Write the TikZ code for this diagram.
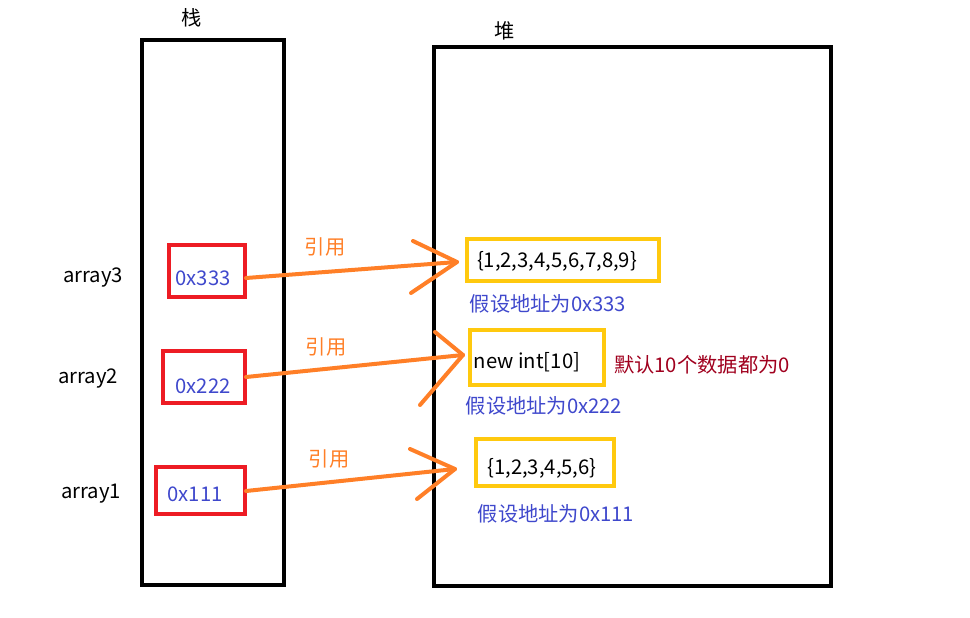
\documentclass[tikz,border=0pt]{standalone}
\usepackage{fontspec}
\setmainfont{Noto Sans CJK SC}
\definecolor{porange}{HTML}{FF7F27}
\definecolor{pred}{HTML}{ED1C24}
\definecolor{pyellow}{HTML}{FFC90E}
\definecolor{pblue}{HTML}{3F48CC}
\definecolor{pdred}{HTML}{A0001E}
\begin{document}
\begin{tikzpicture}[x=0.75pt,y=-0.75pt,
  frame/.style={draw=black,line width=3.4pt},
  redbox/.style={draw=pred,line width=3pt,inner sep=0pt},
  ylwbox/.style={draw=pyellow,line width=3pt,inner sep=0pt},
  lbl/.style={inner sep=0pt,yshift=-1.5pt,font=\fontsize{15.2pt}{17pt}\selectfont},
  addr/.style={lbl,text=pblue},
  reflbl/.style={lbl,text=porange},
  refline/.style={draw=porange,line width=3pt,line cap=round,line join=round}]
\useasboundingbox (0,0) rectangle (970,617);
% frames
\draw[frame] (142,40) rectangle (284,585);
\draw[frame] (434,47) rectangle (831,586);
\node[lbl] (stk) at (192,16) {栈};
\node[lbl] (hp) at (505,29) {堆};
% variable names
\node[lbl] (n3) at (93,276) {array3};
\node[lbl] (n2) at (88,377) {array2};
\node[lbl] (n1) at (91,492) {array1};
% red boxes
\node[redbox,minimum width=76pt*0.75,minimum height=52pt*0.75] (r3) at (207,271) {};
\node[redbox,minimum width=82pt*0.75,minimum height=52pt*0.75] (r2) at (204,377) {};
\node[redbox,minimum width=89pt*0.75,minimum height=47pt*0.75] (r1) at (200.5,490.5) {};
\node[addr] (a3) at (203,276) {0x333};
\node[addr] (a2) at (203,384) {0x222};
\node[addr] (a1) at (195,492) {0x111};
% yellow boxes
\node[ylwbox,minimum width=192pt*0.75,minimum height=42pt*0.75] (y3) at (563,260) {};
\node[ylwbox,minimum width=134pt*0.75,minimum height=55pt*0.75] (y2) at (537,357.5) {};
\node[ylwbox,minimum width=138pt*0.75,minimum height=47pt*0.75] (y1) at (545,462.5) {};
\node[lbl] (v3) at (557,259) {\{1,2,3,4,5,6,7,8,9\}};
\node[lbl] (v2) at (527,360) {new int[10]};
\node[lbl] (v1) at (542,466) {\{1,2,3,4,5,6\}};
% address notes
\node[addr] (h3) at (548,302) {假设地址为0x333};
\node[addr] (h2) at (544,404) {假设地址为0x222};
\node[addr] (h1) at (556,512) {假设地址为0x111};
\node[lbl,text=pdred] (note) at (702,363) {默认10个数据都为0};
% reference labels
\node[reflbl] (l3) at (325,245) {引用};
\node[reflbl] (l2) at (326,345) {引用};
\node[reflbl] (l1) at (329,457) {引用};
% arrow coordinates
\coordinate (s3) at (246,278);
\coordinate (t3) at (457,262);
\coordinate (b3a) at (413,241);
\coordinate (b3b) at (411,293);
\coordinate (s2) at (246,377);
\coordinate (t2) at (463,355);
\coordinate (b2a) at (435,332);
\coordinate (b2b) at (420,405);
\coordinate (s1) at (246,491);
\coordinate (t1) at (455,469);
\coordinate (b1a) at (410,449);
\coordinate (b1b) at (417,499);
% arrows
\draw[refline] (s3) -- (t3);
\draw[refline] (b3a) -- (t3) -- (b3b);
\draw[refline] (s2) -- (t2);
\draw[refline] (b2a) -- (t2) -- (b2b);
\draw[refline] (s1) -- (t1);
\draw[refline] (b1a) -- (t1) -- (b1b);
\end{tikzpicture}
\end{document}
